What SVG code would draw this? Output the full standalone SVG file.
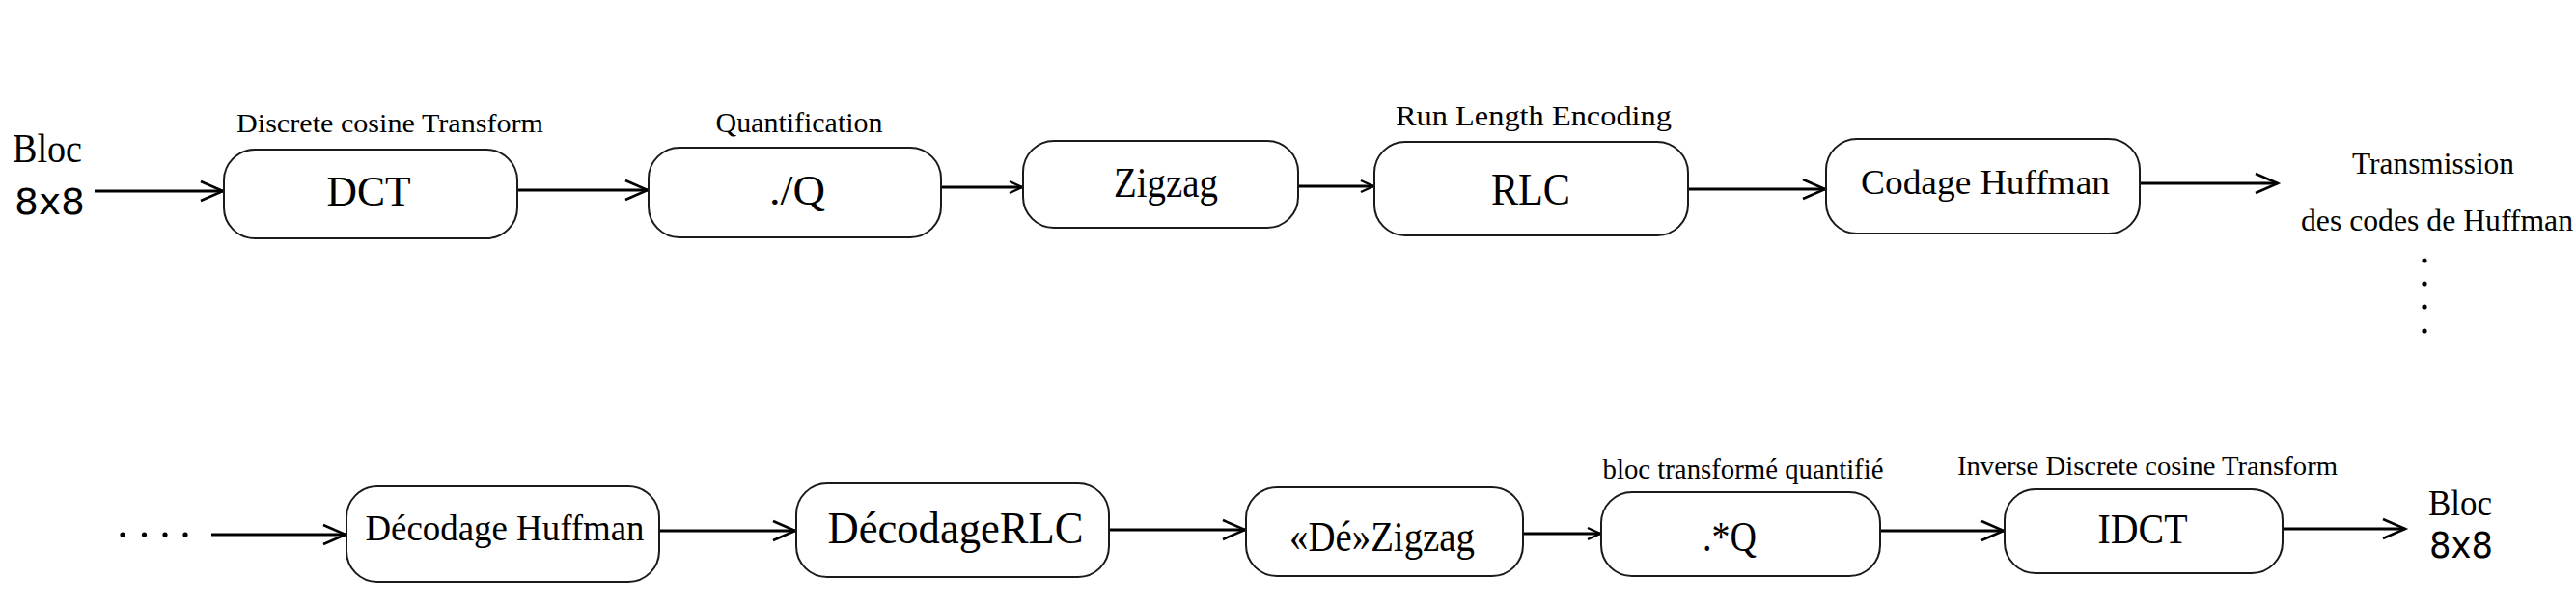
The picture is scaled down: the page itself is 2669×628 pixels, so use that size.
<svg xmlns="http://www.w3.org/2000/svg" width="2669" height="628" viewBox="0 0 2669 628">
<style>
  .box { fill: #ffffff; stroke: #1a1a1a; stroke-width: 2; }
  .lbl { font-family: "Liberation Serif", "Times New Roman", serif; fill: #000; text-anchor: middle; }
  .cap { font-family: "Liberation Serif", "Times New Roman", serif; fill: #000; text-anchor: middle; }
  .io { font-family: "Liberation Serif", "Times New Roman", serif; fill: #000; }
  .num { font-family: "DejaVu Sans", "Liberation Sans", sans-serif; fill: #000; }
  .conn { fill: none; stroke: #000; stroke-width: 2.8; }
  .dot { fill: #000; }
</style>
<defs>
  <marker id="ah" markerUnits="userSpaceOnUse" markerWidth="30" markerHeight="26" refX="24" refY="12" orient="auto" overflow="visible">
    <path d="M1,2 L24,12 L1,22" fill="none" stroke="#000" stroke-width="2.6"/>
  </marker>
  <marker id="ahs" markerUnits="userSpaceOnUse" markerWidth="18" markerHeight="16" refX="14" refY="7" orient="auto" overflow="visible">
    <path d="M1,1 L14,7 L1,13" fill="none" stroke="#000" stroke-width="2.4"/>
  </marker>
</defs>
<rect width="2669" height="628" fill="#ffffff"/>

<g id="connectors">
  <line class="conn" x1="98" y1="198" x2="231" y2="198" marker-end="url(#ah)"/>
  <line class="conn" x1="536" y1="197" x2="671" y2="197" marker-end="url(#ah)"/>
  <line class="conn" x1="975" y1="194" x2="1059" y2="194" marker-end="url(#ahs)"/>
  <line class="conn" x1="1345" y1="193" x2="1423" y2="193" marker-end="url(#ahs)"/>
  <line class="conn" x1="1749" y1="196" x2="1891" y2="196" marker-end="url(#ah)"/>
  <line class="conn" x1="2217" y1="190" x2="2360" y2="190" marker-end="url(#ah)"/>
  <line class="conn" x1="219" y1="554" x2="358" y2="554" marker-end="url(#ah)"/>
  <line class="conn" x1="683" y1="550" x2="824" y2="550" marker-end="url(#ah)"/>
  <line class="conn" x1="1149" y1="549" x2="1290" y2="549" marker-end="url(#ah)"/>
  <line class="conn" x1="1578" y1="553" x2="1658" y2="553" marker-end="url(#ahs)"/>
  <line class="conn" x1="1948" y1="550" x2="2076" y2="550" marker-end="url(#ah)"/>
  <line class="conn" x1="2365" y1="548" x2="2492" y2="548" marker-end="url(#ah)"/>
</g>

<g id="input-block">
  <text class="io" x="13" y="168" font-size="42" textLength="72" lengthAdjust="spacingAndGlyphs">Bloc</text>
  <text class="num" x="15" y="222" font-size="38" textLength="73" lengthAdjust="spacingAndGlyphs">8x8</text>
</g>

<g id="node-dct">
  <text class="cap" x="404" y="137" font-size="28" textLength="318" lengthAdjust="spacingAndGlyphs">Discrete cosine Transform</text>
  <rect class="box" x="232" y="155" width="304" height="92" rx="32" ry="32"/>
  <text class="lbl" x="382" y="213" font-size="44" textLength="87" lengthAdjust="spacingAndGlyphs">DCT</text>
</g>

<g id="node-quant">
  <text class="cap" x="828" y="137" font-size="30" textLength="173" lengthAdjust="spacingAndGlyphs">Quantification</text>
  <rect class="box" x="672" y="153" width="303" height="93" rx="32" ry="32"/>
  <text class="lbl" x="826" y="212" font-size="44" textLength="58" lengthAdjust="spacingAndGlyphs">./Q</text>
</g>

<g id="node-zigzag">
  <rect class="box" x="1060" y="146" width="285" height="90" rx="32" ry="32"/>
  <text class="lbl" x="1208" y="204" font-size="44" textLength="108" lengthAdjust="spacingAndGlyphs">Zigzag</text>
</g>

<g id="node-rlc">
  <text class="cap" x="1589" y="130" font-size="29" textLength="286" lengthAdjust="spacingAndGlyphs">Run Length Encoding</text>
  <rect class="box" x="1424" y="147" width="325" height="97" rx="32" ry="32"/>
  <text class="lbl" x="1586" y="212" font-size="46" textLength="82" lengthAdjust="spacingAndGlyphs">RLC</text>
</g>

<g id="node-huffman">
  <rect class="box" x="1892" y="144" width="325" height="98" rx="32" ry="32"/>
  <text class="lbl" x="2057" y="201" font-size="36" textLength="258" lengthAdjust="spacingAndGlyphs">Codage Huffman</text>
</g>

<g id="transmission">
  <text class="cap" x="2521" y="180" font-size="32" textLength="168" lengthAdjust="spacingAndGlyphs">Transmission</text>
  <text class="cap" x="2525" y="239" font-size="31" textLength="282" lengthAdjust="spacingAndGlyphs">des codes de Huffman</text>
  <circle class="dot" cx="2512" cy="270" r="2.6"/>
  <circle class="dot" cx="2512" cy="294" r="2.6"/>
  <circle class="dot" cx="2512" cy="318" r="2.6"/>
  <circle class="dot" cx="2512" cy="343" r="2.6"/>
</g>

<g id="continuation">
  <circle class="dot" cx="127" cy="554" r="2.6"/>
  <circle class="dot" cx="149.5" cy="554" r="2.6"/>
  <circle class="dot" cx="171" cy="554" r="2.6"/>
  <circle class="dot" cx="192" cy="554" r="2.6"/>
</g>

<g id="node-dec-huffman">
  <rect class="box" x="359" y="504" width="324" height="99" rx="32" ry="32"/>
  <text class="lbl" x="523" y="560" font-size="37" textLength="289" lengthAdjust="spacingAndGlyphs">Décodage Huffman</text>
</g>

<g id="node-dec-rlc">
  <rect class="box" x="825" y="501" width="324" height="97" rx="32" ry="32"/>
  <text class="lbl" x="990" y="563" font-size="46" textLength="265" lengthAdjust="spacingAndGlyphs">DécodageRLC</text>
</g>

<g id="node-dezigzag">
  <rect class="box" x="1291" y="505" width="287" height="92" rx="32" ry="32"/>
  <text class="lbl" x="1432" y="571" font-size="44" textLength="192" lengthAdjust="spacingAndGlyphs">«Dé»Zigzag</text>
</g>

<g id="node-dequant">
  <text class="cap" x="1806" y="496" font-size="30" textLength="291" lengthAdjust="spacingAndGlyphs">bloc transformé quantifié</text>
  <rect class="box" x="1659" y="510" width="289" height="87" rx="32" ry="32"/>
  <text class="lbl" x="1792" y="571" font-size="44" textLength="56" lengthAdjust="spacingAndGlyphs">.*Q</text>
</g>

<g id="node-idct">
  <text class="cap" x="2225" y="492" font-size="27" textLength="394" lengthAdjust="spacingAndGlyphs">Inverse Discrete cosine Transform</text>
  <rect class="box" x="2077" y="507" width="288" height="87" rx="32" ry="32"/>
  <text class="lbl" x="2220" y="563" font-size="45" textLength="93" lengthAdjust="spacingAndGlyphs">IDCT</text>
</g>

<g id="output-block">
  <text class="io" x="2516" y="534" font-size="37" textLength="66" lengthAdjust="spacingAndGlyphs">Bloc</text>
  <text class="num" x="2517" y="578" font-size="38" textLength="66" lengthAdjust="spacingAndGlyphs">8x8</text>
</g>
</svg>
